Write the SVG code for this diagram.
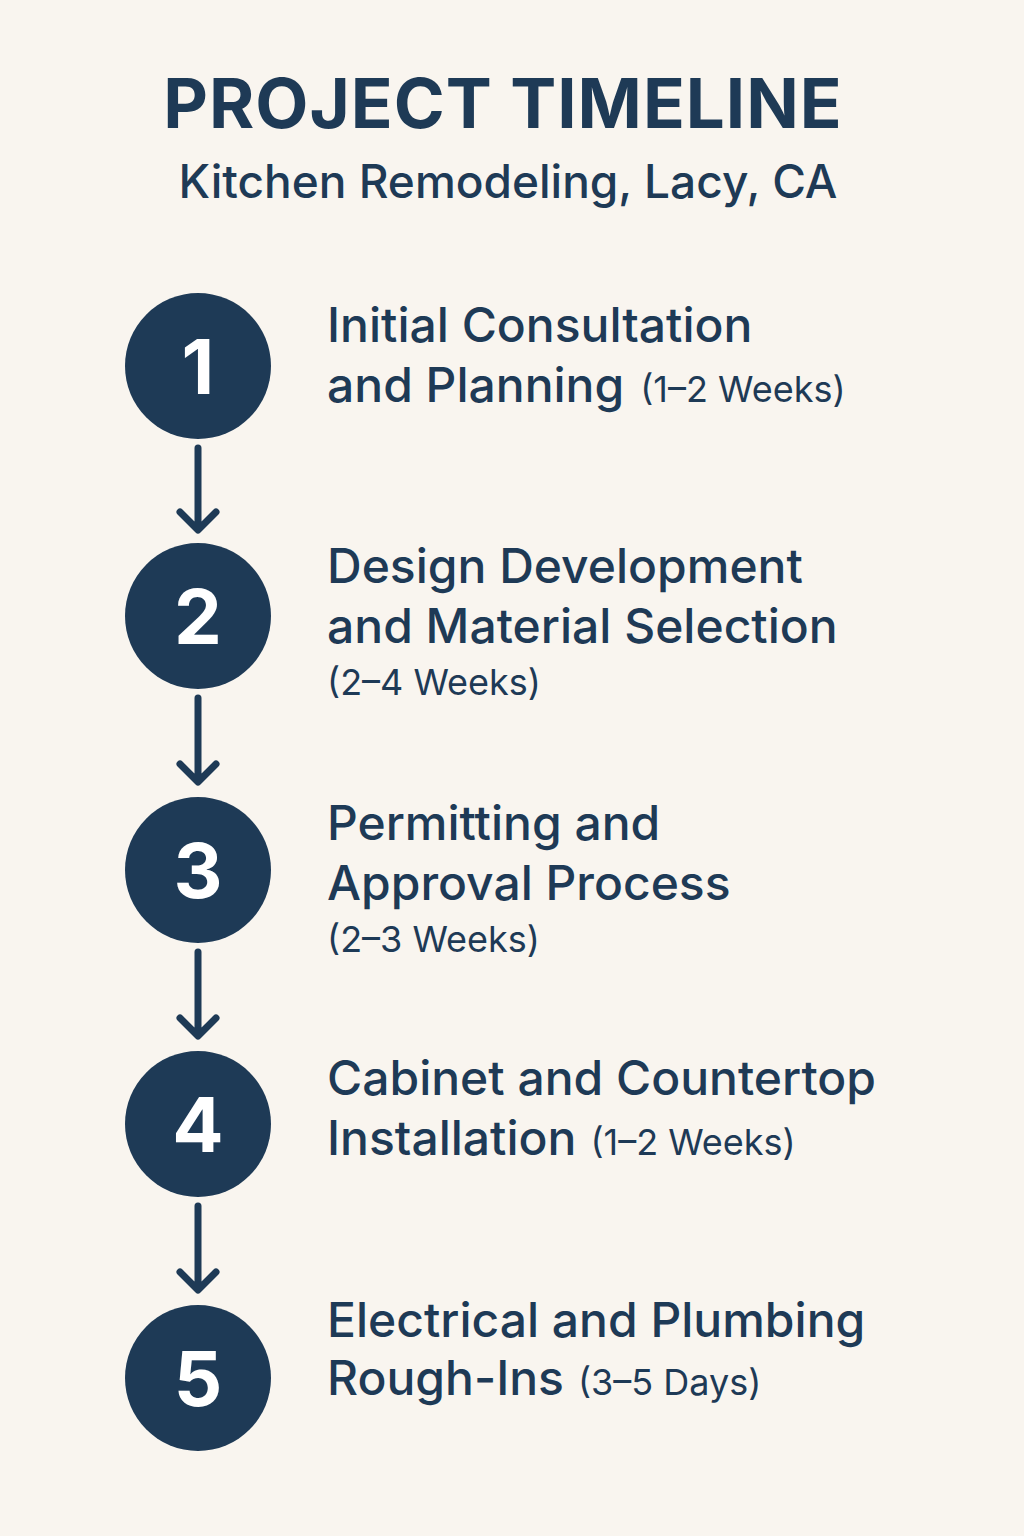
<svg xmlns="http://www.w3.org/2000/svg" width="1024" height="1536" viewBox="0 0 1024 1536">
<defs>
<style>
.bg{fill:#f9f5ef}
.title{font-family:Inter,"Noto Sans",sans-serif;font-weight:700;font-size:69px;fill:#1e3a56;letter-spacing:1px}
.sub{font-family:Inter,"Noto Sans",sans-serif;font-weight:500;font-size:46px;fill:#1e3a56}
.circ{fill:#1e3a56}
.num{font-family:Inter,"Noto Sans",sans-serif;font-weight:700;font-size:76px;fill:#ffffff;text-anchor:middle}
.lbl{font-family:Inter,"Noto Sans",sans-serif;font-weight:500;font-size:48px;fill:#1e3a56}
.dur{font-family:Inter,"Noto Sans",sans-serif;font-weight:400;font-size:36px;fill:#1e3a56}
.conn{stroke:#1e3a56;stroke-width:7;fill:none;stroke-linecap:round;stroke-linejoin:round}
</style>
</defs>
<rect class="bg" x="0" y="0" width="1024" height="1536"/>
<text class="title" x="503" y="128" text-anchor="middle">PROJECT TIMELINE</text>
<text class="sub" x="508" y="198" text-anchor="middle">Kitchen Remodeling, Lacy, CA</text>
<g id="connectors">
<path class="conn" d="M198 448 V528 M180 512 L198 530 L216 512"/>
<path class="conn" d="M198 698 V780 M180 764 L198 782 L216 764"/>
<path class="conn" d="M198 952 V1034 M180 1018 L198 1036 L216 1018"/>
<path class="conn" d="M198 1206 V1288 M180 1272 L198 1290 L216 1272"/>
</g>
<g id="step1">
<circle class="circ" cx="198" cy="366" r="73"/>
<text class="num" x="198" y="394">1</text>
<text class="lbl" x="327" y="342">Initial Consultation</text>
<text x="327" y="402"><tspan class="lbl">and Planning</tspan><tspan class="dur" dx="16">(1–2 Weeks)</tspan></text>
</g>
<g id="step2">
<circle class="circ" cx="198" cy="616" r="73"/>
<text class="num" x="198" y="644">2</text>
<text class="lbl" x="327" y="583">Design Development</text>
<text class="lbl" x="327" y="643">and Material Selection</text>
<text class="dur" x="327" y="695">(2–4 Weeks)</text>
</g>
<g id="step3">
<circle class="circ" cx="198" cy="870" r="73"/>
<text class="num" x="198" y="898">3</text>
<text class="lbl" x="327" y="840">Permitting and</text>
<text class="lbl" x="327" y="900">Approval Process</text>
<text class="dur" x="327" y="952">(2–3 Weeks)</text>
</g>
<g id="step4">
<circle class="circ" cx="198" cy="1124" r="73"/>
<text class="num" x="198" y="1152">4</text>
<text class="lbl" x="327" y="1095">Cabinet and Countertop</text>
<text x="327" y="1155"><tspan class="lbl">Installation</tspan><tspan class="dur" dx="14">(1–2 Weeks)</tspan></text>
</g>
<g id="step5">
<circle class="circ" cx="198" cy="1378" r="73"/>
<text class="num" x="198" y="1406">5</text>
<text class="lbl" x="327" y="1337">Electrical and Plumbing</text>
<text x="327" y="1395"><tspan class="lbl">Rough-Ins</tspan><tspan class="dur" dx="14">(3–5 Days)</tspan></text>
</g>
</svg>
